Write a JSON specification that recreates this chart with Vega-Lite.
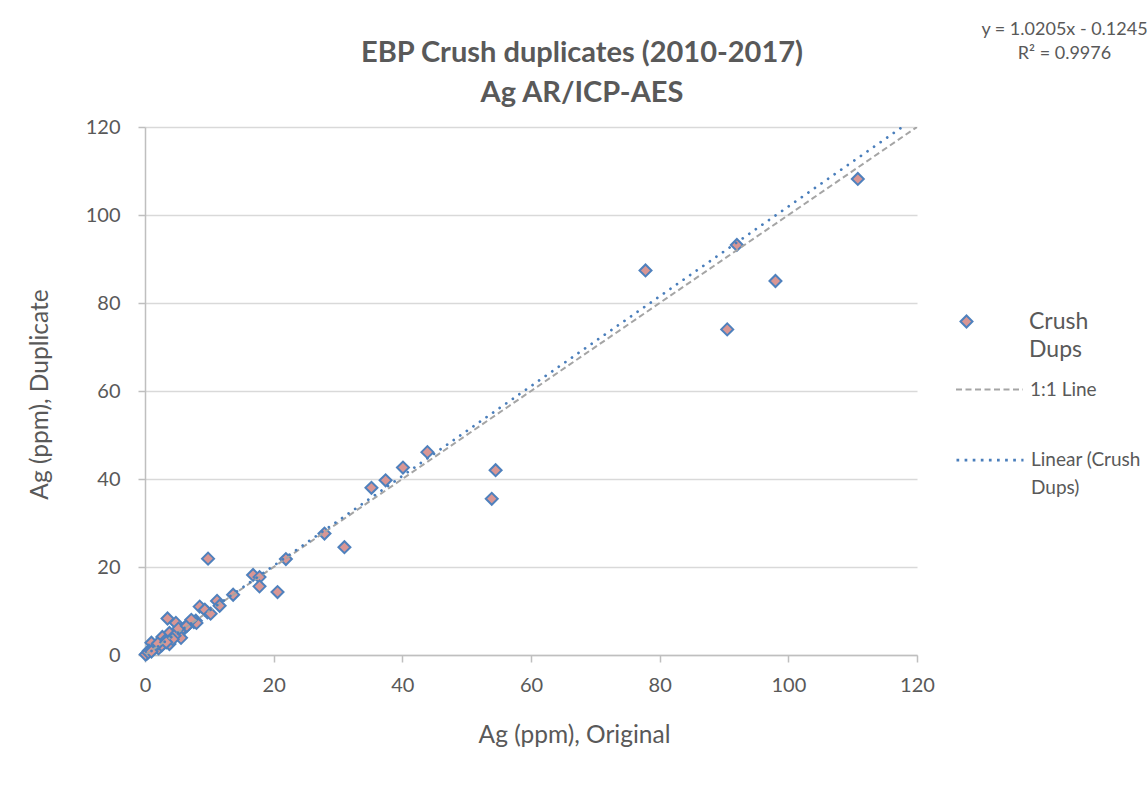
{
  "$schema": "https://vega.github.io/schema/vega-lite/v6.json",
  "autosize": "none",
  "width": 772,
  "height": 528,
  "padding": {"left": 145, "top": 127, "right": 230, "bottom": 142},
  "background": "white",
  "config": {
    "font": "Lato",
    "view": {"stroke": null},
    "style": {"guide-label": {"lineHeight": 28}},
    "axis": {"labelFont": "Lato", "titleFont": "Lato", "labelColor": "#595959", "titleColor": "#595959", "titleFontWeight": "normal"},
    "legend": {"labelFont": "Lato", "labelColor": "#595959", "padding": 0}
  },
  "title": {
    "text": ["EBP Crush duplicates (2010-2017)", "Ag AR/ICP-AES"],
    "font": "Lato",
    "fontSize": 29,
    "fontWeight": "bold",
    "color": "#595959",
    "anchor": "middle",
    "dx": 51,
    "offset": -88,
    "lineHeight": 40
  },
  "resolve": {"axis": {"y": "independent"}},
  "layer": [
    {
      "data": {"values": [
        {"orig": 110.8, "dup": 108.2, "series": "Crush Dups"},
        {"orig": 92.0, "dup": 93.2, "series": "Crush Dups"},
        {"orig": 77.8, "dup": 87.4, "series": "Crush Dups"},
        {"orig": 98.0, "dup": 85.0, "series": "Crush Dups"},
        {"orig": 90.5, "dup": 74.0, "series": "Crush Dups"},
        {"orig": 54.5, "dup": 42.0, "series": "Crush Dups"},
        {"orig": 53.9, "dup": 35.5, "series": "Crush Dups"},
        {"orig": 43.9, "dup": 46.1, "series": "Crush Dups"},
        {"orig": 40.1, "dup": 42.6, "series": "Crush Dups"},
        {"orig": 37.4, "dup": 39.7, "series": "Crush Dups"},
        {"orig": 35.2, "dup": 38.0, "series": "Crush Dups"},
        {"orig": 31.0, "dup": 24.5, "series": "Crush Dups"},
        {"orig": 27.9, "dup": 27.6, "series": "Crush Dups"},
        {"orig": 21.9, "dup": 21.8, "series": "Crush Dups"},
        {"orig": 20.6, "dup": 14.3, "series": "Crush Dups"},
        {"orig": 16.8, "dup": 18.2, "series": "Crush Dups"},
        {"orig": 17.8, "dup": 17.7, "series": "Crush Dups"},
        {"orig": 17.8, "dup": 15.6, "series": "Crush Dups"},
        {"orig": 13.7, "dup": 13.7, "series": "Crush Dups"},
        {"orig": 9.8, "dup": 21.9, "series": "Crush Dups"},
        {"orig": 11.2, "dup": 12.3, "series": "Crush Dups"},
        {"orig": 11.6, "dup": 11.2, "series": "Crush Dups"},
        {"orig": 8.5, "dup": 11.0, "series": "Crush Dups"},
        {"orig": 9.7, "dup": 9.7, "series": "Crush Dups"},
        {"orig": 9.3, "dup": 10.3, "series": "Crush Dups"},
        {"orig": 7.6, "dup": 7.5, "series": "Crush Dups"},
        {"orig": 6.8, "dup": 7.1, "series": "Crush Dups"},
        {"orig": 7.9, "dup": 7.8, "series": "Crush Dups"},
        {"orig": 6.2, "dup": 6.2, "series": "Crush Dups"},
        {"orig": 5.5, "dup": 5.6, "series": "Crush Dups"},
        {"orig": 4.8, "dup": 7.3, "series": "Crush Dups"},
        {"orig": 3.5, "dup": 8.3, "series": "Crush Dups"},
        {"orig": 5.6, "dup": 3.9, "series": "Crush Dups"},
        {"orig": 3.8, "dup": 2.5, "series": "Crush Dups"},
        {"orig": 3.8, "dup": 5.0, "series": "Crush Dups"},
        {"orig": 4.6, "dup": 4.4, "series": "Crush Dups"},
        {"orig": 2.7, "dup": 4.1, "series": "Crush Dups"},
        {"orig": 3.1, "dup": 3.2, "series": "Crush Dups"},
        {"orig": 1.8, "dup": 2.3, "series": "Crush Dups"},
        {"orig": 1.0, "dup": 2.8, "series": "Crush Dups"},
        {"orig": 1.5, "dup": 1.6, "series": "Crush Dups"},
        {"orig": 2.1, "dup": 1.5, "series": "Crush Dups"},
        {"orig": 2.6, "dup": 2.2, "series": "Crush Dups"},
        {"orig": 0.6, "dup": 1.0, "series": "Crush Dups"},
        {"orig": 0.3, "dup": 0.3, "series": "Crush Dups"},
        {"orig": 0.1, "dup": 0.1, "series": "Crush Dups"},
        {"orig": 0.5, "dup": 0.6, "series": "Crush Dups"},
        {"orig": 1.0, "dup": 0.8, "series": "Crush Dups"},
        {"orig": 2.0, "dup": 2.6, "series": "Crush Dups"},
        {"orig": 5.2, "dup": 6.0, "series": "Crush Dups"},
        {"orig": 6.5, "dup": 6.6, "series": "Crush Dups"},
        {"orig": 10.2, "dup": 9.4, "series": "Crush Dups"},
        {"orig": 4.3, "dup": 3.6, "series": "Crush Dups"},
        {"orig": 3.3, "dup": 2.9, "series": "Crush Dups"},
        {"orig": 8.0, "dup": 7.3, "series": "Crush Dups"},
        {"orig": 7.2, "dup": 8.0, "series": "Crush Dups"}
      ]},
      "mark": {"type": "point", "filled": true, "fill": "#d99694", "stroke": "#4f81bd", "strokeWidth": 2, "size": 144, "opacity": 1},
      "encoding": {
        "x": {"field": "orig", "type": "quantitative",
          "scale": {"domain": [0, 120], "nice": false, "zero": false},
          "axis": {"values": [0, 20, 40, 60, 80, 100, 120], "grid": false, "domainColor": "#bfbfbf", "domainWidth": 1.5, "tickColor": "#bfbfbf", "tickWidth": 1.5, "tickSize": 7, "labelFontSize": 20, "labelPadding": 13, "labelFlush": false, "labelOverlap": false, "title": "Ag (ppm), Original", "titleFontSize": 24.5, "titleX": 429, "titleY": 80, "titleBaseline": "middle", "titleAlign": "center"}},
        "y": {"field": "dup", "type": "quantitative",
          "scale": {"domain": [0, 120], "nice": false, "zero": false},
          "axis": {"values": [0, 20, 40, 60, 80, 100, 120], "grid": true, "gridColor": "#d9d9d9", "gridWidth": 1.5, "domainColor": "#bfbfbf", "domainWidth": 1.5, "tickColor": "#bfbfbf", "tickWidth": 1.5, "tickSize": 7, "labelFontSize": 20, "labelPadding": 18, "labelFlush": false, "labelOverlap": false, "title": "Ag (ppm), Duplicate", "titleFontSize": 24.5, "titleX": -105, "titleY": 267, "titleBaseline": "middle", "titleAlign": "center", "titleAngle": 270}},
        "shape": {"field": "series", "type": "nominal", "scale": {"range": ["diamond"]},
          "legend": {"orient": "none", "legendX": 810, "legendY": 183, "title": null, "labelFontSize": 23, "labelExpr": "['Crush', 'Dups']", "labelLimit": 300, "labelOffset": 51, "symbolSize": 144, "symbolStrokeWidth": 2, "symbolOpacity": 1}}
      }
    },
    {
      "data": {"values": [
        {"orig": 0, "dup": 0, "series": "1:1 Line"},
        {"orig": 120, "dup": 120, "series": "1:1 Line"}
      ]},
      "mark": {"type": "line", "stroke": "#a5a5a5", "strokeWidth": 2, "clip": true},
      "encoding": {
        "x": {"field": "orig", "type": "quantitative"},
        "y": {"field": "dup", "type": "quantitative", "axis": null},
        "strokeDash": {"field": "series", "type": "nominal", "scale": {"range": [[6, 3.5]]},
          "legend": {"orient": "none", "legendX": 810, "legendY": 228, "title": null, "labelFontSize": 19, "labelOffset": 6, "symbolType": "stroke", "symbolSize": 4489, "symbolStrokeColor": "#a5a5a5", "symbolStrokeWidth": 2, "symbolDash": [6, 3.5]}}
      }
    },
    {
      "data": {"values": [
        {"orig": 0, "dup": -0.1245, "series": "Linear (Crush Dups)"},
        {"orig": 120, "dup": 122.3355, "series": "Linear (Crush Dups)"}
      ]},
      "mark": {"type": "line", "strokeWidth": 2.75, "strokeCap": "round", "strokeDash": [0.01, 8], "clip": true},
      "encoding": {
        "x": {"field": "orig", "type": "quantitative"},
        "y": {"field": "dup", "type": "quantitative",
          "axis": {"orient": "right", "domain": false, "ticks": false, "labels": false, "grid": false, "title": ["y = 1.0205x - 0.1245", "R² = 0.9976"], "titleFontSize": 18, "titleAngle": 0, "titleAlign": "center", "titleBaseline": "top", "titleX": 147, "titleY": -107, "titleLineHeight": 24}},
        "stroke": {"field": "series", "type": "nominal", "scale": {"range": ["#4a7ebb"]},
          "legend": {"orient": "none", "legendX": 810, "legendY": 298, "title": null, "labelFontSize": 19, "labelExpr": "['Linear (Crush', 'Dups)']", "labelLimit": 300, "labelOffset": 6, "symbolType": "stroke", "symbolSize": 4489, "symbolStrokeWidth": 2.75, "symbolDash": [2.7, 5.4]}}
      }
    }
  ]
}
